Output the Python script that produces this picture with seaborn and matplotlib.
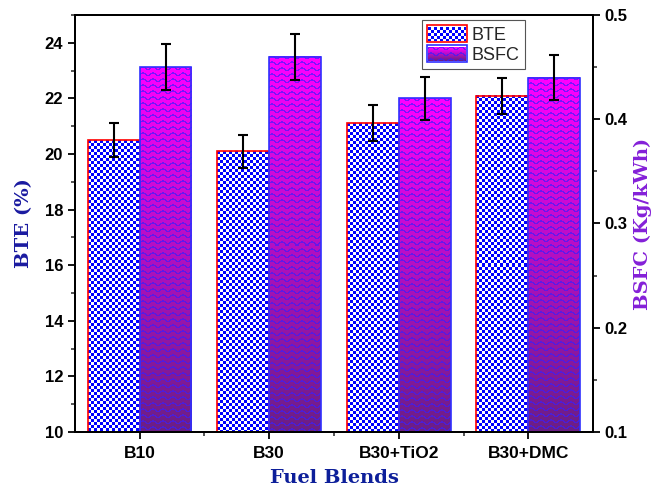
import numpy as np
import pandas as pd
import matplotlib
matplotlib.use("Agg")
import matplotlib.pyplot as plt
import seaborn as sns
from matplotlib.patches import Rectangle
from matplotlib.ticker import MultipleLocator

# Data
blends = ["B10", "B30", "B30+TiO2", "B30+DMC"]
bte = [20.5, 20.1, 21.1, 22.1]
bte_err = [0.6, 0.6, 0.65, 0.65]
bsfc = [0.45, 0.46, 0.42, 0.44]
bsfc_err = [0.022, 0.022, 0.021, 0.022]
series = ["BTE", "BSFC"]

df = pd.DataFrame({
    "Blend": blends * 2,
    "Series": ["BTE"] * 4 + ["BSFC"] * 4,
    "Value": bte + bsfc,
})

sns.set_style("ticks")
plt.rcParams["font.family"] = ["Liberation Sans", "DejaVu Sans"]


def checker(w, h, c=3):
    yy, xx = np.mgrid[0:h, 0:w]
    m = ((xx // c + yy // c) % 2 == 0)[..., None]
    return np.where(m, np.array([0.0, 0.0, 1.0]), np.array([1.0, 1.0, 1.0]))


def waves(w, h):
    yy, xx = np.mgrid[0:h, 0:w]
    t = (yy / max(h - 1, 1))[..., None]
    top = np.array([1.0, 0.0, 1.0])
    bot = np.array([0.42, 0.12, 0.52])
    base = top * (1 - t) + bot * t
    phase = (yy + 1.3 * np.sin(2 * np.pi * xx / 10.0)) % 6.0
    line = (phase < 1.6)[..., None]
    blue = np.array([0.22, 0.12, 1.0])
    return np.where(line, base * 0.35 + blue * 0.65, base)


fig, ax1 = plt.subplots(figsize=(6.51, 4.92), dpi=100)
fig.subplots_adjust(left=0.115, right=0.911, bottom=0.122, top=0.9695)
ax2 = ax1.twinx()

pal = {"BTE": "white", "BSFC": "white"}
sns.barplot(data=df[df.Series == "BTE"], x="Blend", y="Value", hue="Series",
            hue_order=series, order=blends, palette=pal, width=0.8, dodge=True,
            errorbar=None, legend=False, ax=ax1)
sns.barplot(data=df[df.Series == "BSFC"], x="Blend", y="Value", hue="Series",
            hue_order=series, order=blends, palette=pal, width=0.8, dodge=True,
            errorbar=None, legend=False, ax=ax2)


def setup_limits():
    ax1.set_xlim(-0.5, 3.5)
    ax1.set_ylim(10, 25)
    ax2.set_ylim(0.1, 0.5)


setup_limits()

bars1 = sorted([p for p in ax1.patches if np.isfinite(p.get_height()) and p.get_height() > 0],
               key=lambda p: p.get_x())
bars2 = sorted([p for p in ax2.patches if np.isfinite(p.get_height()) and p.get_height() > 0],
               key=lambda p: p.get_x())


def texture_bars(ax, bars, func, edge):
    ymin = ax.get_ylim()[0]
    for p in bars:
        p.set_facecolor("none")
        p.set_edgecolor(edge)
        p.set_linewidth(1.2)
        p.set_zorder(2)
        x0, x1 = p.get_x(), p.get_x() + p.get_width()
        y0, y1 = max(p.get_y(), ymin), p.get_y() + p.get_height()
        (px0, py0), (px1, py1) = ax.transData.transform([(x0, y0), (x1, y1)])
        w, h = max(int(round(px1 - px0)), 1), max(int(round(py1 - py0)), 1)
        im = ax.imshow(func(w, h), extent=(x0, x1, y0, y1), origin="upper",
                       aspect="auto", interpolation="nearest", zorder=1.9)
        im.set_clip_path(p)
        im.set_clip_box(ax.bbox)


texture_bars(ax1, bars1, checker, "#ff0000")
texture_bars(ax2, bars2, waves, "#3030ff")
setup_limits()

# Error bars
ax1.errorbar([p.get_x() + p.get_width() / 2 for p in bars1], bte, yerr=bte_err,
             fmt="none", ecolor="black", elinewidth=1.5, capsize=3.8, capthick=1.5, zorder=5)
ax2.errorbar([p.get_x() + p.get_width() / 2 for p in bars2], bsfc, yerr=bsfc_err,
             fmt="none", ecolor="black", elinewidth=1.5, capsize=3.8, capthick=1.5, zorder=5)

# Ticks
ax1.set_xticks(range(len(blends)), blends)
ax1.set_xticks([0.5, 1.5, 2.5], minor=True)
ax1.yaxis.set_major_locator(MultipleLocator(2))
ax1.yaxis.set_minor_locator(MultipleLocator(1))
ax2.yaxis.set_major_locator(MultipleLocator(0.1))
ax2.yaxis.set_minor_locator(MultipleLocator(0.05))
for ax in (ax1, ax2):
    ax.tick_params(which="major", direction="out", length=5, width=1.3, labelsize=12, colors="black")
    ax.tick_params(which="minor", direction="out", length=3, width=1.1)
    for s in ax.spines.values():
        s.set_linewidth(1.4)
        s.set_color("black")
ax1.tick_params(axis="x", labelsize=12.5, pad=5)
for lbl in ax1.get_xticklabels() + ax1.get_yticklabels() + ax2.get_yticklabels():
    lbl.set_fontweight("bold")

lab = dict(fontfamily="DejaVu Serif", fontweight="bold", fontsize=14)
ax1.set_ylabel("BTE (%)", color="#1a1aa0", labelpad=8, **lab)
ax2.set_ylabel("BSFC (Kg/kWh)", color="#8420d8", labelpad=4, **lab)
ax1.set_xlabel("Fuel Blends", color="#0d1f9a", labelpad=6, **lab)

# Legend
handles = [Rectangle((0, 0), 1, 1, facecolor="none", edgecolor="#ff0000", lw=1.2),
           Rectangle((0, 0), 1, 1, facecolor="none", edgecolor="#3030ff", lw=1.2)]
leg = ax2.legend(handles, series, loc="upper left", bbox_to_anchor=(0.67, 0.988),
                 borderaxespad=0, fontsize=13, handlelength=2.2, handleheight=1.0,
                 fancybox=False, framealpha=1, edgecolor="#555555", borderpad=0.3,
                 labelspacing=0.1, handletextpad=0.25)
leg.get_frame().set_linewidth(0.8)

fig.canvas.draw()
for hnd, func in zip(leg.legend_handles, [checker, waves]):
    bb = hnd.get_window_extent()
    x0, y0 = int(round(bb.x0)) + 1, int(round(bb.y0)) + 1
    w, h = int(round(bb.width)) - 2, int(round(bb.height)) - 2
    fig.figimage(func(w, h), xo=x0, yo=y0, origin="upper", zorder=10)

fig.savefig("out.png", dpi=100)
